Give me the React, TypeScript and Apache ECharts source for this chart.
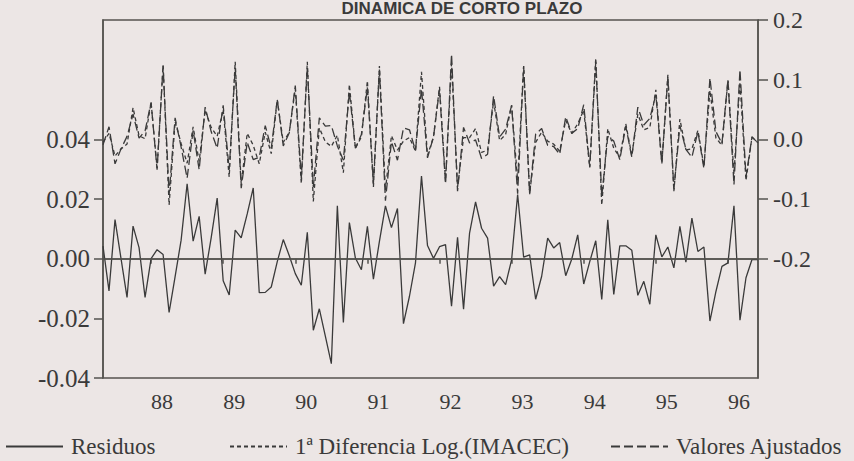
import React, { useEffect, useRef } from "react";
import * as echarts from "echarts";

const startYear = 1987;
const startMonth = 5;
const yearLabels = ["88", "89", "90", "91", "92", "93", "94", "95", "96"];
const leftTicks = [-0.04, -0.02, 0, 0.02, 0.04];
const rightTicks = [-0.2, -0.1, 0, 0.1, 0.2];
const seriesNames = ["Residuos", "1ª Diferencia Log.(IMACEC)", "Valores Ajustados"];

const residuos = [
  0.0042, -0.0108, 0.0131, 0.0, -0.013, 0.0109, 0.0037, -0.013, 0.0, 0.003,
  0.0014, -0.018, -0.006, 0.0062, 0.0251, 0.0059, 0.0142, -0.0052, 0.007, 0.0203,
  -0.0074, -0.0122, 0.0096, 0.007, 0.015, 0.0237, -0.0114, -0.0113, -0.0095, -0.001,
  0.0064, 0.001, -0.005, -0.0089, 0.0088, -0.024, -0.0168, -0.026, -0.0352, 0.0177,
  -0.0214, 0.0121, 0.0002, -0.0037, 0.0108, -0.0069, 0.0058, 0.0177, 0.0104, 0.0168,
  -0.0218, -0.0126, -0.0014, 0.0277, 0.0044, 0.0001, 0.004, 0.0047, -0.0159, 0.0072,
  -0.0169, 0.0086, 0.019, 0.0102, 0.0069, -0.0092, -0.006, -0.0087, -0.0003, 0.0215,
  0.0005, 0.0013, -0.0136, -0.0059, 0.0069, 0.0036, 0.0054, -0.0057, -0.0002, 0.008,
  -0.0085, -0.001, 0.006, -0.0137, 0.013, -0.012, 0.0043, 0.0043, 0.0028, -0.0123,
  -0.0076, -0.0153, 0.008, 0.0006, 0.0039, -0.0031, 0.0108, -0.0012, 0.0136, 0.0024,
  0.0039, -0.0209, -0.011, -0.0026, -0.0014, 0.0177, -0.0206, -0.0064, -0.0003, -0.0003,
];

const difLogImacec = [
  -0.005, 0.01, -0.028, -0.016, -0.008, 0.053, 0.006, 0.001, 0.062, -0.048,
  0.124, -0.11, 0.03, -0.007, -0.04, 0.021, -0.037, 0.049, 0.02, 0.005,
  0.05, -0.063, 0.13, -0.075, 0.01, -0.01, -0.041, 0.012, -0.024, 0.066,
  -0.005, 0.012, 0.085, -0.074, 0.13, -0.104, 0.019, -0.004, -0.012, 0.007,
  -0.056, 0.092, -0.015, 0.004, 0.098, -0.08, 0.123, -0.085, 0.006, -0.018,
  -0.003, 0.003, -0.02, 0.113, -0.027, 0.004, 0.088, -0.07, 0.127, -0.08,
  0.003, 0.003, 0.018, -0.022, -0.018, 0.064, -0.002, 0.008, 0.057, -0.069,
  0.123, -0.091, -0.005, 0.012, -0.003, -0.008, -0.02, 0.032, 0.01, 0.026,
  0.049, -0.047, 0.136, -0.11, 0.018, -0.015, -0.03, 0.026, -0.027, 0.042,
  0.016, 0.02, 0.083, -0.04, 0.108, -0.087, 0.034, -0.018, -0.016, 0.015,
  -0.045, 0.082, 0.002, -0.01, 0.099, -0.058, 0.096, -0.069, 0.004, -0.006,
];

const valoresAjustados = [
  -0.009, 0.021, -0.041, -0.016, 0.005, 0.042, 0.002, 0.014, 0.062, -0.051,
  0.123, -0.092, 0.036, -0.013, -0.065, 0.015, -0.051, 0.054, 0.013, -0.015,
  0.057, -0.051, 0.12, -0.082, -0.005, -0.034, -0.03, 0.023, -0.015, 0.067,
  -0.011, 0.011, 0.09, -0.065, 0.121, -0.08, 0.036, 0.022, 0.023, -0.011,
  -0.035, 0.08, -0.015, 0.008, 0.087, -0.073, 0.117, -0.103, -0.004, -0.035,
  0.019, 0.016, -0.019, 0.085, -0.031, 0.004, 0.084, -0.075, 0.143, -0.087,
  0.02, -0.006, -0.001, -0.032, -0.025, 0.073, 0.004, 0.017, 0.057, -0.091,
  0.122, -0.092, 0.009, 0.018, -0.01, -0.012, -0.025, 0.038, 0.01, 0.018,
  0.058, -0.046, 0.13, -0.096, 0.005, -0.003, -0.034, 0.022, -0.03, 0.054,
  0.024, 0.035, 0.075, -0.041, 0.104, -0.084, 0.023, -0.017, -0.03, 0.013,
  -0.049, 0.103, 0.013, -0.007, 0.1, -0.076, 0.117, -0.063, 0.004, -0.006,
];

const months: string[] = [];
for (let k = 0; k < residuos.length; k++) {
  const m0 = startMonth - 1 + k;
  const y = startYear + Math.floor(m0 / 12);
  const m = (m0 % 12) + 1;
  months.push(`${y}M${m < 10 ? "0" + m : m}`);
}

const BG = "#ece6e5";
const INK = "#3a3a3a";
const AXIS = "#55534f";
const SERIF = "'Liberation Serif', 'Times New Roman', serif";
const legendLefts = [5, 229, 610];

export default function App() {
  const ref = useRef<HTMLDivElement>(null);
  useEffect(() => {
    document.body.style.margin = "0";
    document.body.style.background = BG;
    const chart = echarts.init(ref.current!, null, { renderer: "svg" });
    const isJan = (_i: number, v: string) => v.endsWith("M01");
    chart.setOption({
      animation: false,
      backgroundColor: BG,
      title: {
        text: "DINAMICA DE CORTO PLAZO",
        left: 462,
        top: 0,
        padding: 0,
        textAlign: "center",
        textStyle: {
          fontFamily: "'Liberation Sans', Arial, sans-serif",
          fontWeight: "bold",
          fontSize: 17,
          color: INK,
        },
      },
      legend: seriesNames.map((name, k) => ({
        left: legendLefts[k],
        top: 435,
        padding: 0,
        itemWidth: 57,
        itemHeight: 14,
        itemStyle: { opacity: 0, borderWidth: 0 },
        textStyle: { fontFamily: SERIF, fontSize: 23, color: INK, padding: [0, 0, 0, 3] },
        data: [name],
      })),
      grid: {
        left: 103,
        right: 96,
        top: 20,
        bottom: 83,
        show: true,
        borderColor: AXIS,
        borderWidth: 1.5,
        containLabel: false,
      },
      xAxis: {
        type: "category",
        data: months,
        boundaryGap: false,
        axisLine: { show: true, lineStyle: { color: AXIS, width: 1.5 } },
        axisTick: { show: true, interval: isJan, length: 5, lineStyle: { color: AXIS, width: 1.5 } },
        axisLabel: {
          interval: isJan,
          align: "left",
          margin: 12,
          fontFamily: SERIF,
          fontSize: 22,
          color: INK,
          formatter: (v: string) => yearLabels[Number(v.slice(0, 4)) - 1988] ?? v.slice(2, 4),
        },
        splitLine: { show: false },
      },
      yAxis: [
        {
          type: "value",
          position: "left",
          min: -0.04,
          max: 0.08,
          interval: 0.02,
          axisLine: { show: true, lineStyle: { color: AXIS, width: 1.5 } },
          axisTick: { show: true, length: 9, customValues: leftTicks, lineStyle: { color: AXIS, width: 1.5 } },
          axisLabel: {
            customValues: leftTicks,
            margin: 13,
            fontFamily: SERIF,
            fontSize: 25,
            color: INK,
            formatter: (v: number) => (v > 0.045 ? "" : v.toFixed(2)),
          },
          splitLine: { show: false },
        },
        {
          type: "value",
          position: "right",
          min: -0.4,
          max: 0.2,
          interval: 0.1,
          axisLine: { show: true, lineStyle: { color: AXIS, width: 1.5 } },
          axisTick: { show: true, length: 10, customValues: rightTicks, lineStyle: { color: AXIS, width: 1.5 } },
          axisLabel: {
            customValues: rightTicks,
            margin: 15,
            fontFamily: SERIF,
            fontSize: 24,
            color: INK,
            formatter: (v: number) => (v < -0.25 ? "" : v.toFixed(1)),
          },
          splitLine: { show: false },
        },
      ],
      series: [
        {
          name: seriesNames[0],
          type: "line",
          yAxisIndex: 0,
          data: residuos,
          symbol: "none",
          lineStyle: { color: INK, width: 1.3, type: "solid" },
          itemStyle: { color: INK },
          markLine: {
            silent: true,
            symbol: "none",
            label: { show: false },
            lineStyle: { color: AXIS, width: 1.5, type: "solid" },
            data: [{ yAxis: 0 }],
          },
        },
        {
          name: seriesNames[1],
          type: "line",
          yAxisIndex: 1,
          data: difLogImacec,
          symbol: "none",
          lineStyle: { color: INK, width: 1.3, type: [4, 3] },
          itemStyle: { color: INK },
        },
        {
          name: seriesNames[2],
          type: "line",
          yAxisIndex: 1,
          data: valoresAjustados,
          symbol: "none",
          lineStyle: { color: INK, width: 1.3, type: [9, 4] },
          itemStyle: { color: INK },
        },
      ],
    });
    return () => chart.dispose();
  }, []);
  return <div ref={ref} style={{ width: 854, height: 461, background: BG }} />;
}
